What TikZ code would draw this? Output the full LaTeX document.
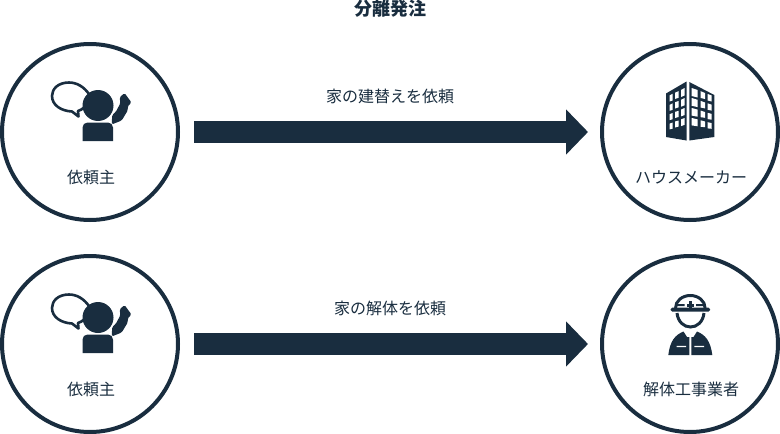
\documentclass[tikz,border=0pt]{standalone}
\usepackage{fontspec}
\setmainfont{Noto Sans CJK JP}
\usetikzlibrary{arrows.meta}
\definecolor{ink}{HTML}{192D3F}
\tikzset{
  party/.style={circle, draw=ink, line width=4pt, minimum size=176pt, inner sep=0pt},
  txt/.style={text=ink, font=\fontsize{16}{18}\selectfont, inner sep=0pt},
  order/.style={draw=ink, line width=22pt, -{Triangle[length=22pt,width=44pt,fill=ink]}, shorten <=14pt, shorten >=12pt},
  caller/.pic={
    \draw[ink, line width=2.6pt, fill=white, line join=round] (-1,-37) .. controls (-6,-44) and (-13,-48.5) .. (-21,-48.5) .. controls (-32,-48.5) and (-38,-42) .. (-38,-35) .. controls (-38,-26) and (-29,-20) .. (-18,-19.5) -- (-11.5,-14.5) -- (-12,-20) .. controls (-8,-21) and (-2,-26) .. (-1,-30);
    \fill[ink] (8,-25.5) circle (15.5);
    \fill[ink] (-7.5,10) [rounded corners=5pt] -- (-7.5,-8.5) -- (23,-8.5) [sharp corners] -- (23,10) -- cycle;
    \fill[ink, rounded corners=1.5pt] (21.7,-6.5) -- (31.7,-10.5) -- (38,-21) -- (37.5,-24.5) -- (41.5,-28.5) -- (34.5,-38) -- (29.5,-33.5) -- (30.5,-28) -- (25.7,-19) -- (22.2,-16) -- cycle;
  },
  tower/.pic={
    \fill[ink] (-24,-37.5) -- (-3.5,-49.5) -- (-3.5,9.5) -- (-24,6) -- cycle;
    \fill[ink] (-0.7,-49) -- (24.3,-36) -- (24.3,6) -- (-0.7,9.5) -- cycle;
    \foreach \r in {0,1,2,3} {
      \fill[white] (-20.5,-35.5+9.4*\r) -- (-17.5,-37.2+9.6*\r) -- (-17.5,-30.5+9.4*\r) -- (-20.5,-29.5+9.3*\r) -- cycle;
      \fill[white] (-15,-38.3+9.6*\r) -- (-11.5,-39.8+9.8*\r) -- (-11.5,-33.2+9.6*\r) -- (-15,-32+9.5*\r) -- cycle;
      \fill[white] (-9,-41+9.8*\r) -- (-5.5,-43+10*\r) -- (-5.5,-35.5+9.8*\r) -- (-9,-34+9.7*\r) -- cycle;
      \fill[white] (1.7,-43+10*\r) -- (7.7,-41+9.8*\r) -- (7.7,-33.5+9.6*\r) -- (1.7,-35+9.8*\r) -- cycle;
      \fill[white] (10.7,-39.8+9.7*\r) -- (15,-38+9.5*\r) -- (15,-32+9.4*\r) -- (10.7,-33+9.6*\r) -- cycle;
      \fill[white] (17.7,-37+9.4*\r) -- (21.7,-35.5+9.2*\r) -- (21.7,-29.5+9.1*\r) -- (17.7,-30.5+9.3*\r) -- cycle;
    }
  },
  worker/.pic={
    % helmet
    \draw[ink, line width=3pt] (-14.5,-35) arc (180:360:14.8 and 12.5);
    \fill[ink, rounded corners=1.5pt] (-19.3,-35.3) rectangle (20,-31.3);
    \fill[ink] (-1,-42) rectangle (1.6,-35);
    \fill[ink] (-3.3,-38.8) rectangle (3.9,-36);
    \fill[ink] (-14.5,-39) rectangle (-5.5,-37) (6,-39) rectangle (15,-37);
    % face
    \draw[ink, line width=3pt] (-13,-30) .. controls (-12,-21) and (-6,-16) .. (0.5,-16) .. controls (7,-16) and (13,-21) .. (14,-30);
    % body
    \fill[ink] (-21.7,12) .. controls (-20,-2) and (-15,-8) .. (-6.5,-11.5) -- (-3,-6) -- (-0.7,-6) -- (-0.7,12) -- cycle;
    \fill[ink] (22.3,12) .. controls (20.5,-2) and (15.5,-8) .. (7,-11.5) -- (3.5,-6) -- (1.3,-6) -- (1.3,12) -- cycle;
    \fill[white] (-13.3,2.8) rectangle (-4,4.2) (4.3,2.8) rectangle (14,4.2);
  }
}

\begin{document}
\begin{tikzpicture}[x=1pt, y=-1pt]
\useasboundingbox (0,0) rectangle (780,434);

\node[txt, font=\fontsize{18}{20}\selectfont\bfseries] (title) at (390,9) {分離発注};

\node[party] (client1) at (90,132) {};
\node[party] (maker) at (690,132) {};
\node[party] (client2) at (90,344) {};
\node[party] (trades) at (690,344) {};

\path (client1.center) pic[yshift=1pt] {caller};
\path (client2.center) pic[yshift=1pt] {caller};
\path (maker.center) pic[yshift=1pt] {tower};
\path (trades.center) pic[yshift=1pt] {worker};

\node[txt] (client1name) at (91,177) {依頼主};
\node[txt] (makername) at (691,177) {ハウスメーカー};
\node[txt] (client2name) at (91,389) {依頼主};
\node[txt] (tradesname) at (691,389) {解体工事業者};

\draw[order] (client1) -- (maker);
\draw[order] (client2) -- (trades);

\node[txt] (order1) at (390,96) {家の建替えを依頼};
\node[txt] (order2) at (390,308) {家の解体を依頼};
\end{tikzpicture}
\end{document}
